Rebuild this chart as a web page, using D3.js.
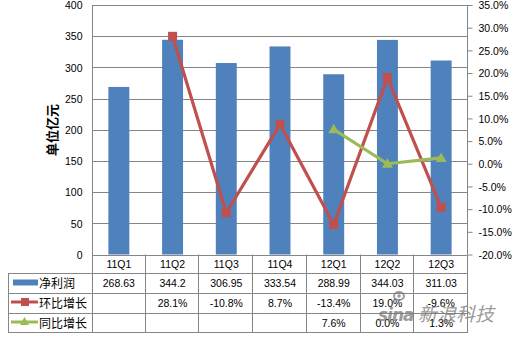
<!DOCTYPE html>
<html><head><meta charset="utf-8">
<script src="https://cdn.jsdelivr.net/npm/d3@7"></script>
<style>body{margin:0;background:#fff}svg{display:block}</style>
</head><body><svg id="c" width="517" height="340"></svg>
<script>
const categories = ["11Q1","11Q2","11Q3","11Q4","12Q1","12Q2","12Q3"];
const netProfit = [268.63,344.2,306.95,333.54,288.99,344.03,311.03];
const netProfitLabels = ["268.63","344.2","306.95","333.54","288.99","344.03","311.03"];
const qoqGrowth = [null,28.1,-10.8,8.7,-13.4,19.0,-9.6];
const yoyGrowth = [null,null,null,null,7.6,0.0,1.3];
const leftTicks = [0,50,100,150,200,250,300,350,400];
const rightTicks = [-20,-15,-10,-5,0,5,10,15,20,25,30,35];
const seriesNames = ["净利润","环比增长","同比增长"];
const axisTitle = "单位亿元";

const C = {blue:"#4F81BD", red:"#C0504D", green:"#9BBB59", grid:"#868686", text:"#000"};
const pct = d => d3.format(".1f")(d).replace("\u2212","-") + "%";
const svg = d3.select("#c");
const L = 92, R = 468, T = 5, B = 254.5;
const x = d3.scaleBand().domain(categories).range([L,R]).padding(0);
const yL = d3.scaleLinear().domain([0,400]).range([B,T]);
const yR = d3.scaleLinear().domain([-20,35]).range([B,T]);
const numFont = "'Liberation Sans', Arial, sans-serif";
const cjkFont = "'Noto Sans CJK SC', sans-serif";

// gridlines
svg.append("g").selectAll("line").data(leftTicks).join("line")
  .attr("x1",L).attr("x2",R).attr("y1",d=>Math.round(yL(d))+0.5).attr("y2",d=>Math.round(yL(d))+0.5)
  .attr("stroke",C.grid).attr("stroke-width",1);

// left axis
const gL = svg.append("g").attr("transform",`translate(${L+0.5},0)`)
  .call(d3.axisLeft(yL).tickValues(leftTicks).tickSize(0).tickPadding(10).tickFormat(d3.format("d")));
gL.select(".domain").attr("stroke",C.grid).attr("d",`M0,${T}V${B+78}`);
gL.selectAll("text").attr("font-family",numFont).attr("font-size","10.5px").attr("fill",C.text).attr("dy","0.35em");

// right axis
const gR = svg.append("g").attr("transform",`translate(${R-0.5},0)`)
  .call(d3.axisRight(yR).tickValues(rightTicks).tickSize(5).tickPadding(6).tickFormat(pct));
gR.select(".domain").attr("stroke",C.grid).attr("d",`M0,${T}V${B}`);
gR.selectAll(".tick line").attr("stroke",C.grid);
gR.selectAll("text").attr("font-family",numFont).attr("font-size","10.5px").attr("fill",C.text).attr("dy","0.35em");

// axis title
svg.append("text").attr("transform","translate(57,130) rotate(-90)")
  .attr("text-anchor","middle").attr("font-family",cjkFont).attr("font-weight","bold")
  .attr("font-size","13px").attr("fill",C.text).text(axisTitle);

// bars
const bw = x.bandwidth()*0.39;
svg.append("g").selectAll("rect").data(netProfit).join("rect")
  .attr("x",(d,i)=>x(categories[i])+x.bandwidth()/2-bw/2).attr("width",bw)
  .attr("y",d=>yL(d)).attr("height",d=>yL(0)-yL(d)).attr("fill",C.blue);

// lines
function drawLine(vals,color,marker){
  const pts = vals.map((v,i)=>({v,c:categories[i]})).filter(p=>p.v!==null);
  const line = d3.line().x(p=>x(p.c)+x.bandwidth()/2).y(p=>yR(p.v));
  svg.append("path").datum(pts).attr("d",line).attr("fill","none").attr("stroke",color).attr("stroke-width",3.2).attr("stroke-linejoin","round");
  const g = svg.append("g");
  pts.forEach(p=>{
    const cx = x(p.c)+x.bandwidth()/2, cy = yR(p.v);
    if(marker==="square") g.append("rect").attr("x",cx-4.5).attr("y",cy-4.5).attr("width",9).attr("height",9).attr("fill",color);
    else g.append("path").attr("d",`M${cx},${cy-5.5}L${cx+5.5},${cy+4}L${cx-5.5},${cy+4}Z`).attr("fill",color);
  });
}
drawLine(qoqGrowth,C.red,"square");
drawLine(yoyGrowth,C.green,"triangle");

// data table
const rowLines = [272.7,293.2,313.2,332.3];
const tl = svg.append("g").attr("stroke",C.grid).attr("stroke-width",1);
rowLines.forEach(y=>tl.append("line").attr("x1",8).attr("x2",R).attr("y1",Math.round(y)+0.5).attr("y2",Math.round(y)+0.5));
tl.append("line").attr("x1",8.5).attr("x2",8.5).attr("y1",273).attr("y2",333);
categories.forEach((c,i)=>{
  const xx = Math.round(x(c)+x.bandwidth())-0.5;
  tl.append("line").attr("x1",xx).attr("x2",xx).attr("y1",B).attr("y2",333);
});
const tt = svg.append("g").attr("font-family",numFont).attr("font-size","10.5px").attr("fill",C.text).attr("text-anchor","middle");
categories.forEach((c,i)=>{
  const cx = x(c)+x.bandwidth()/2;
  tt.append("text").attr("x",cx).attr("y",267.5).text(c);
  tt.append("text").attr("x",cx).attr("y",287).text(netProfitLabels[i]);
  if(qoqGrowth[i]!==null) tt.append("text").attr("x",cx).attr("y",307).text(pct(qoqGrowth[i]));
  if(yoyGrowth[i]!==null) tt.append("text").attr("x",cx).attr("y",327).text(pct(yoyGrowth[i]));
});
// row headers with legend keys
const rh = svg.append("g");
rh.append("rect").attr("x",13).attr("y",279.5).attr("width",25).attr("height",6).attr("fill",C.blue);
rh.append("line").attr("x1",11).attr("x2",38).attr("y1",302).attr("y2",302).attr("stroke",C.red).attr("stroke-width",3);
rh.append("rect").attr("x",21).attr("y",298).attr("width",8).attr("height",8).attr("fill",C.red);
rh.append("line").attr("x1",11).attr("x2",38).attr("y1",322).attr("y2",322).attr("stroke",C.green).attr("stroke-width",3);
rh.append("path").attr("d","M24.5,317L29,325L20,325Z").attr("fill",C.green);
[287.5,307.5,327.5].forEach((y,i)=>rh.append("text").attr("x",39).attr("y",y)
  .attr("font-family",cjkFont).attr("font-size","12px").attr("fill",C.text).text(seriesNames[i]));

// watermark
const wm = svg.append("g").attr("fill","#7a7a7a").attr("opacity",0.75);
wm.append("text").attr("x",378).attr("y",321).attr("font-family","'DejaVu Sans',sans-serif").attr("font-weight","bold").attr("font-style","italic").attr("font-size","17px").attr("letter-spacing","-1px").text("sina");
wm.append("text").attr("x",418).attr("y",321).attr("font-family",cjkFont).attr("font-size","19px").attr("font-style","italic").text("新浪科技");
wm.append("ellipse").attr("cx",399).attr("cy",296).attr("rx",5).attr("ry",4).attr("fill","none").attr("stroke","#7a7a7a").attr("stroke-width",2);
wm.append("circle").attr("cx",399).attr("cy",296).attr("r",1.8);
</script></body></html>
